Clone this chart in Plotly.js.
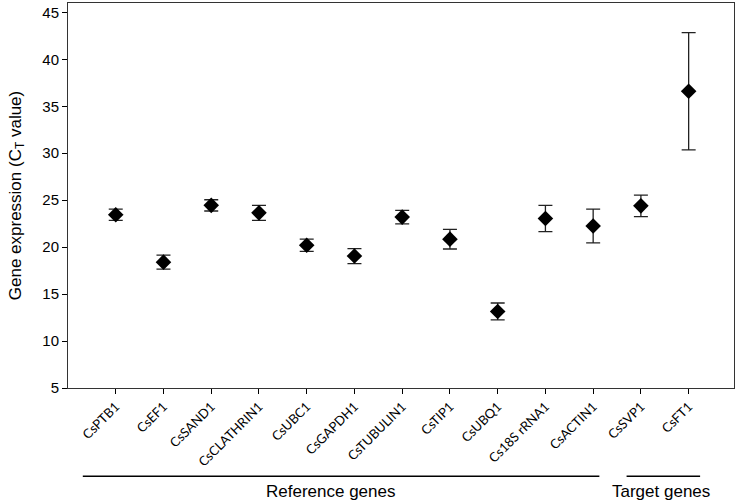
<!DOCTYPE html>
<html>
<head>
<meta charset="utf-8">
<script src="https://cdn.plot.ly/plotly-3.0.1.min.js"></script>
<style>html,body{margin:0;padding:0;background:#fff}#chart{width:739px;height:502px}</style>
</head>
<body>
<div id="chart"></div>
<script>
const genes = ["CsPTB1","CsEF1","CsSAND1","CsCLATHRIN1","CsUBC1","CsGAPDH1","CsTUBULIN1","CsTIP1","CsUBQ1","Cs18S rRNA1","CsACTIN1","CsSVP1","CsFT1"];
const ctValues = [23.45, 18.4, 24.45, 23.65, 20.2, 19.05, 23.2, 20.85, 13.15, 23.05, 22.25, 24.4, 36.6];
const ctErrors = [0.6, 0.75, 0.6, 0.8, 0.65, 0.8, 0.72, 1.05, 0.9, 1.4, 1.8, 1.15, 6.25];
const groupLabels = ["Reference genes", "Target genes"];
const groupFirst = [0, 11];
const groupLast = [10, 12];

const idx = genes.map((g, i) => i);

const trace = {
  x: idx,
  y: ctValues,
  type: "scatter",
  mode: "markers",
  marker: {symbol: "diamond", size: 12, color: "#000"},
  error_y: {type: "data", array: ctErrors, visible: true, color: "#222", thickness: 1.3, width: 7},
  hoverinfo: "x+y"
};

// x axis range in category-index units
const xr = [-1, 12.95];
function toPaper(v) { return (v - xr[0]) / (xr[1] - xr[0]); }

const shapes = [];
const annotations = [];
const extendL = [0.69, 0.3];
const extendR = [0.13, 0.24];
for (let g = 0; g < groupLabels.length; g++) {
  const x0 = toPaper(groupFirst[g] - extendL[g]);
  const x1 = toPaper(groupLast[g] + extendR[g]);
  shapes.push({type: "line", xref: "paper", yref: "paper", x0: x0, x1: x1, y0: -0.229, y1: -0.229,
    line: {color: "#000", width: 1.5}});
}
annotations.push({xref: "paper", yref: "paper", x: toPaper(4.5), y: -0.268, text: groupLabels[0], showarrow: false,
  xanchor: "center", yanchor: "middle", font: {family: "Liberation Sans, Arial", size: 17, color: "#000"}});
annotations.push({xref: "paper", yref: "paper", x: toPaper(11.43), y: -0.268, text: groupLabels[1], showarrow: false,
  xanchor: "center", yanchor: "middle", font: {family: "Liberation Sans, Arial", size: 17, color: "#000"}});

const layout = {
  width: 739, height: 502,
  margin: {l: 68, r: 5, t: 3, b: 114},
  paper_bgcolor: "#fff", plot_bgcolor: "#fff",
  showlegend: false,
  xaxis: {
    range: xr,
    tickmode: "array", tickvals: idx, ticktext: genes,
    tickangle: -45,
    ticks: "outside", ticklen: 5, tickwidth: 1, tickcolor: "#000",
    showgrid: false, zeroline: false,
    showline: true, linecolor: "#333", linewidth: 1, mirror: true,
    tickfont: {family: "Lato, Carlito, sans-serif", size: 13, color: "#000"}
  },
  yaxis: {
    range: [5, 46],
    tickvals: [5,10,15,20,25,30,35,40,45],
    ticks: "outside", ticklen: 5, tickwidth: 1, tickcolor: "#000",
    showgrid: false, zeroline: false,
    showline: true, linecolor: "#333", linewidth: 1, mirror: true,
    tickfont: {family: "Liberation Sans, Arial", size: 15, color: "#000"},
    title: {text: "Gene expression (C<sub>T</sub> value)", standoff: 16,
      font: {family: "Liberation Sans, Arial", size: 17, color: "#000"}}
  },
  shapes: shapes,
  annotations: annotations
};

Plotly.newPlot("chart", [trace], layout, {displayModeBar: false, staticPlot: true});
</script>
</body>
</html>
